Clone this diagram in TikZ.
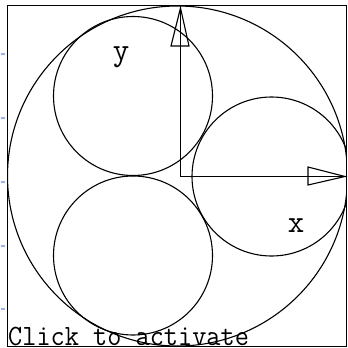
\documentclass[tikz,border=0pt]{standalone}
\usepackage{fontspec}
\begin{document}
\begin{tikzpicture}[x=1pt,y=-1pt,
  ring/.style={circle, draw=black, line width=1.1pt, inner sep=0pt, outer sep=0pt},
  axis/.style={draw=black, line width=1.1pt},
  head/.style={draw=black, line width=1.1pt, line join=miter},
  lbl/.style={font=\ttfamily\fontsize{32}{32}\selectfont, inner sep=0pt},
  tick/.style={draw={rgb,255:red,160;green,175;blue,228}, line width=1.8pt}]
\useasboundingbox (0,0) rectangle (348,348);
\fill[white] (0,0) rectangle (348,348);
% faint ticks at the left margin
\foreach \yy in {54,118,182,246,309} \draw[tick] (0.5,\yy) -- (4.5,\yy);
% frame
\node[draw=black, line width=1.1pt, minimum width=339pt, minimum height=341pt,
      inner sep=0pt, outer sep=0pt, anchor=north west] (frame) at (7.5,5.5) {};
\begin{scope}
\clip (7.5,5.5) rectangle (346.5,346.5);
\node[ring, minimum size=340pt] (big) at (177.5,176) {};
\node[ring, minimum size=159pt] (c1) at (133,96) {};
\node[ring, minimum size=159pt] (c2) at (133,255.5) {};
\node[ring, minimum size=159pt] (c3) at (271.5,176.5) {};
\end{scope}
% axes
\coordinate (O) at (180.5,176.5);
\coordinate (ytip) at (180.5,5.5);
\coordinate (xtip) at (346.5,176.5);
\draw[axis] (O) -- (ytip);
\draw[axis] (O) -- (xtip);
\draw[head] (171,46) -- (189,46) -- (180.5,8) -- cycle;
\draw[head] (308,167) -- (308,185) -- (345,176.5) -- cycle;
% labels
\node[lbl] (ly) at (121,57) {y};
\node[lbl] (lx) at (296,226) {x};
\node[inner sep=0pt, anchor=base west] (act) at (8,345)
  {\ttfamily\fontsize{27.5}{28}\selectfont\scalebox{1}[1.07]{Click to activate}};
\end{tikzpicture}
\end{document}
